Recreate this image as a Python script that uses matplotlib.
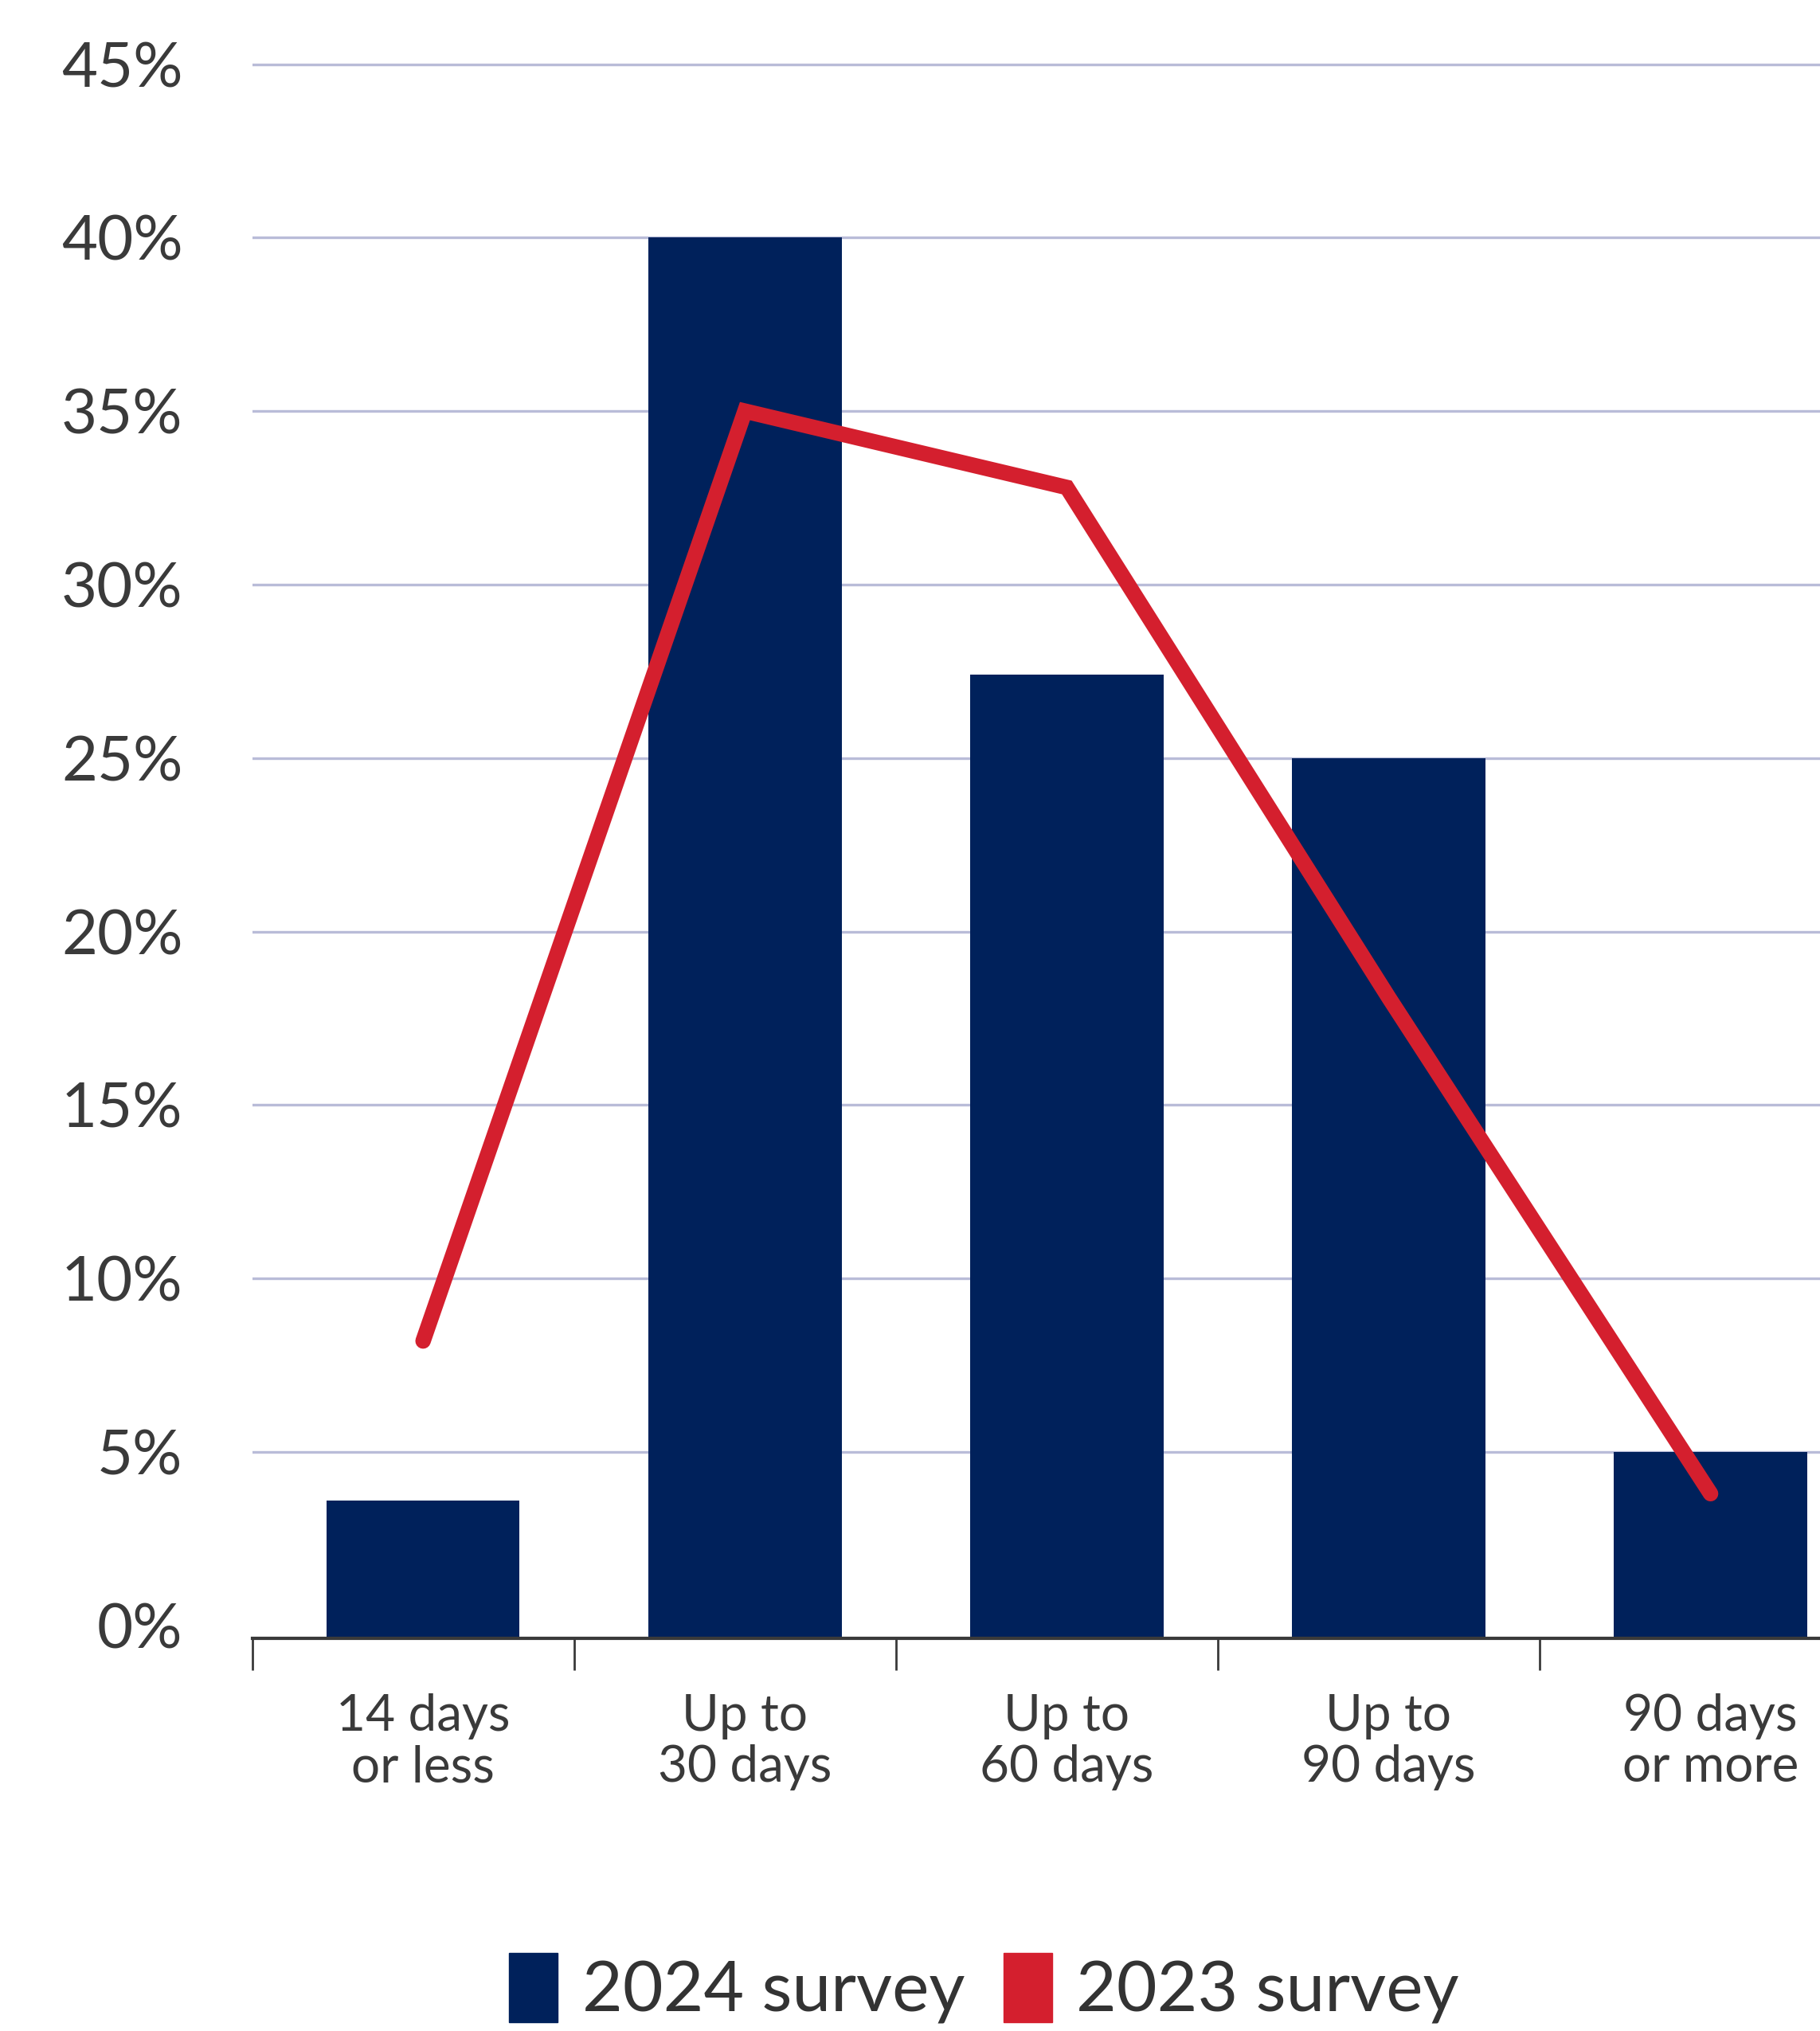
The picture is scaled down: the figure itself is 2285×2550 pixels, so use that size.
import matplotlib.pyplot as plt
import numpy as np
from matplotlib.patches import Patch

# data
categories = ["14 days\nor less", "Up to\n30 days", "Up to\n60 days", "Up to\n90 days", "90 days\nor more"]
survey_2024 = [3.6, 40.0, 27.4, 25.0, 5.0]
survey_2023 = [8.2, 35.0, 32.8, 18.1, 3.8]
y_ticks = [0, 5, 10, 15, 20, 25, 30, 35, 40, 45]
y_labels = ["0%", "5%", "10%", "15%", "20%", "25%", "30%", "35%", "40%", "45%"]

navy = "#00215b"
red = "#d41f2e"
text_col = "#3a3a3a"

# in the original the bar base / axis line sits a bit under the 0% label
base = -0.37

fig = plt.figure(figsize=(22.85, 25.5), dpi=100)
ax = fig.add_axes([317 / 2285, 493 / 2550, 1 - 317 / 2285, 0.9855 - 493 / 2550])

x = np.arange(len(categories))
ax.bar(x, np.array(survey_2024) - base, bottom=base, width=0.6, color=navy, zorder=2)
ax.plot(x, survey_2023, color=red, lw=14, solid_capstyle="round",
        solid_joinstyle="miter", zorder=3)

ax.set_xlim(-0.524, 4.34)
ax.set_ylim(base, 46)

ax.set_yticks(y_ticks)
ax.set_yticklabels(y_labels, fontfamily="Lato", fontsize=56, color=text_col)
ax.tick_params(axis="y", length=0, pad=63)
ax.yaxis.grid(True, color="#b9bcd8", lw=2.4)
ax.get_ygridlines()[0].set_visible(False)
ax.set_axisbelow(True)

ax.set_xticks(x)
ax.set_xticklabels(categories, fontfamily="Lato", fontsize=46, color=text_col,
                   linespacing=1.12)
ax.tick_params(axis="x", which="major", length=0, pad=50)
ax.set_xticks(x - 0.53, minor=True)
ax.tick_params(axis="x", which="minor", length=29, width=2, color=text_col)

for s in ["left", "right", "top"]:
    ax.spines[s].set_visible(False)
ax.spines["bottom"].set_color(text_col)
ax.spines["bottom"].set_linewidth(3)
ax.spines["bottom"].set_zorder(4)

handles = [Patch(color=navy, label="2024 survey"), Patch(color=red, label="2023 survey")]
fig.legend(handles=handles, loc="upper left", bbox_to_anchor=(639 / 2285, 98 / 2550),
           ncol=2, frameon=False, borderpad=0, borderaxespad=0,
           handlelength=0.7, handleheight=1.16, handletextpad=0.35,
           columnspacing=0.55, prop={"family": "Lato", "size": 63}, labelcolor="#333333")

fig.savefig("out.png", dpi=100)
